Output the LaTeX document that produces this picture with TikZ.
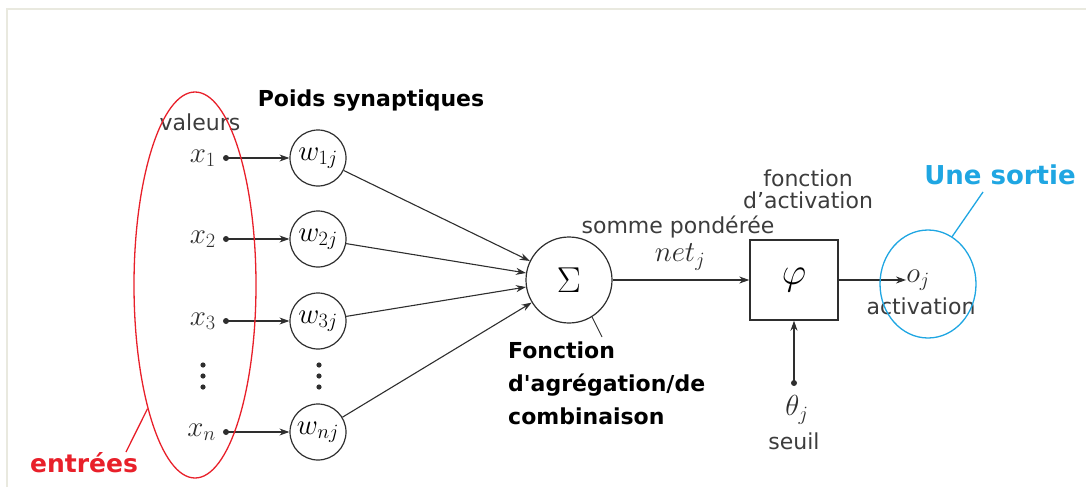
\RequirePackage{fix-cm}
\documentclass[tikz,border=0pt]{standalone}
\usepackage{fontspec}
\setsansfont{DejaVu Sans}
\usetikzlibrary{arrows.meta,shapes.geometric}

\definecolor{ink}{HTML}{2E2E2E}
\definecolor{labelgray}{HTML}{3C3C3C}
\definecolor{redmark}{HTML}{E8202A}
\definecolor{bluemark}{HTML}{1FA6E2}
\definecolor{framegray}{HTML}{E9E9DF}

\tikzset{
  weight/.style={circle, draw=ink, line width=1.2pt, minimum size=56pt, inner sep=0pt,
                 font=\fontsize{29}{30}\selectfont},
  mathlab/.style={inner sep=0pt, text=ink, font=\fontsize{29}{30}\selectfont},
  inputdot/.style={circle, fill=ink, inner sep=0pt, minimum size=6pt},
  link/.style={draw=ink, line width=1.1pt, -{Stealth[length=10pt,width=7pt]}},
  graylab/.style={inner sep=0pt, text=labelgray, font=\sffamily\fontsize{22}{22}\selectfont, align=center},
  boldlab/.style={inner sep=0pt, text=black, font=\sffamily\bfseries\fontsize{22}{33}\selectfont},
  redlab/.style={inner sep=0pt, text=redmark, font=\sffamily\bfseries\fontsize{25}{28}\selectfont},
  bluelab/.style={inner sep=0pt, text=bluemark, font=\sffamily\bfseries\fontsize{26}{28}\selectfont},
}

\begin{document}
\begin{tikzpicture}[x=1pt,y=-1pt]
  \useasboundingbox (0,0) rectangle (1086,487);

  % light page frame
  \draw[framegray, line width=2pt] (7,487) -- (7,9) -- (1086,9);

  % inputs and their dots
  \foreach \i/\lab/\y in {1/x_1/158, 2/x_2/239, 3/x_3/321, n/x_n/432} {
    \node[mathlab, anchor=east] (x\i) at (216,\y) {$\lab$};
    \node[inputdot] (d\i) at (226,\y) {};
  }

  % synaptic weights
  \node[weight] (w1) at (318,158) {$w_{1j}$};
  \node[weight] (w2) at (318,239) {$w_{2j}$};
  \node[weight] (w3) at (318,321) {$w_{3j}$};
  \node[weight] (wn) at (318,432) {$w_{nj}$};

  % vertical ellipses between the 3rd and n-th rows
  \foreach \xx in {203,319} {
    \foreach \yy in {365,376,387} {
      \fill[ink] (\xx,\yy) circle (2.6pt);
    }
  }

  % summation and activation
  \node[circle, draw=ink, line width=1.2pt, minimum size=86pt, inner sep=0pt,
        font=\fontsize{36}{38}\selectfont] (sum) at (569,280) {$\Sigma$};
  \node[rectangle, draw=ink, line width=1.4pt, minimum width=88pt, minimum height=80pt,
        inner sep=0pt, font=\fontsize{38}{40}\selectfont] (phi) at (794,280) {$\varphi$};

  \node[mathlab] (oj) at (918,280) {$o_j$};
  \node[inputdot] (thdot) at (794,383) {};
  \node[mathlab] (theta) at (797,410) {$\theta_j$};

  % connectors
  \foreach \i in {1,2,3,n} {
    \draw[link] (d\i.center) -- (w\i);
    \draw[link] (w\i) -- (sum);
  }
  \draw[link] (sum) -- (phi);
  \draw[link] (phi) -- (oj);
  \draw[link] (thdot.center) -- (phi.south);

  % gray labels
  \node[graylab] (valeurs) at (200,122) {valeurs};
  \node[graylab] (somme) at (678,227) {somme pondérée};
  \node[mathlab] (net) at (680,257) {$net_j$};
  \node[graylab] (factiv) at (808,189) {fonction\\d’activation};
  \node[graylab] (activ) at (921,306) {activation};
  \node[graylab] (seuil) at (794,441) {seuil};

  % bold annotations
  \node[boldlab, anchor=center] (poids) at (371,101) {Poids synaptiques};
  \node[boldlab, anchor=north west, align=left] (agg) at (508,342)
       {Fonction\\d\textquotesingle agrégation/de\\combinaison};
  \coordinate (aggtip) at (602,337);
  \draw[ink, line width=0.9pt] (sum.-58) -- (aggtip);

  % red highlight of the inputs
  \node[ellipse, draw=redmark, line width=1.3pt, minimum width=122pt, minimum height=386pt,
        inner sep=0pt] (inring) at (195,285) {};
  \node[redlab] (entrees) at (84,463) {entrées};
  \coordinate (entreestip) at (126,452);
  \draw[redmark, line width=1.3pt] (inring.249) -- (entreestip);

  % blue highlight of the output
  \node[ellipse, draw=bluemark, line width=1.3pt, minimum width=96pt, minimum height=108pt,
        inner sep=0pt] (outring) at (928,284) {};
  \node[bluelab] (sortie) at (1000,175) {Une sortie};
  \coordinate (sortietip) at (983,192);
  \draw[bluemark, line width=1.3pt] (outring.63) -- (sortietip);
\end{tikzpicture}
\end{document}
